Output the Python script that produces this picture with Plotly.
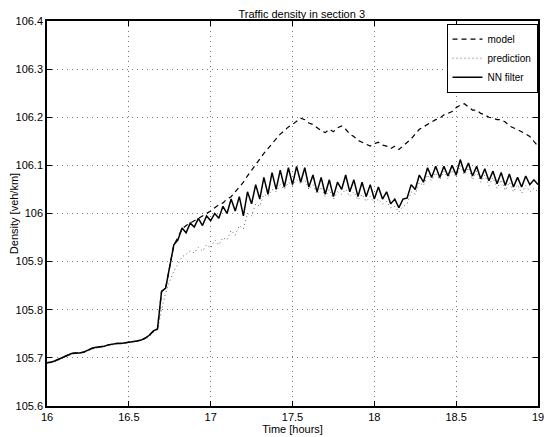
import plotly.graph_objects as go

time_start = 16.0
time_step = 0.025

nn_filter = [
    105.690, 105.691, 105.694, 105.698, 105.702, 105.706, 105.709, 105.710, 105.710, 105.712,
    105.716, 105.720, 105.722, 105.723, 105.724, 105.727, 105.729, 105.730, 105.730, 105.731,
    105.733, 105.734, 105.735, 105.737, 105.741, 105.747, 105.756, 105.760, 105.838, 105.845,
    105.890, 105.935, 105.945, 105.970, 105.960, 105.980, 105.972, 105.990, 105.975, 105.995,
    105.985, 106.000, 105.990, 106.015, 106.000, 106.030, 106.005, 106.035, 105.995, 106.045,
    106.020, 106.060, 106.030, 106.075, 106.040, 106.085, 106.050, 106.090, 106.055, 106.095,
    106.060, 106.098, 106.065, 106.095, 106.055, 106.080, 106.045, 106.075, 106.040, 106.070,
    106.035, 106.065, 106.050, 106.080, 106.045, 106.070, 106.035, 106.065, 106.035, 106.060,
    106.030, 106.055, 106.030, 106.045, 106.020, 106.030, 106.012, 106.030, 106.032, 106.060,
    106.050, 106.080, 106.065, 106.095, 106.075, 106.098, 106.075, 106.098, 106.078, 106.100,
    106.080, 106.112, 106.085, 106.105, 106.078, 106.098, 106.072, 106.093, 106.068, 106.088,
    106.062, 106.085, 106.058, 106.082, 106.055, 106.075, 106.055, 106.078, 106.060, 106.070,
    106.060,
]

model = [
    105.690, 105.691, 105.694, 105.698, 105.702, 105.706, 105.709, 105.710, 105.710, 105.712,
    105.716, 105.720, 105.722, 105.723, 105.724, 105.727, 105.729, 105.730, 105.730, 105.731,
    105.733, 105.734, 105.735, 105.737, 105.741, 105.747, 105.756, 105.760, 105.838, 105.845,
    105.890, 105.935, 105.950, 105.968, 105.975, 105.980, 105.985, 105.990, 105.995, 106.000,
    106.005, 106.012, 106.018, 106.022, 106.030, 106.035, 106.045, 106.055, 106.065, 106.078,
    106.090, 106.100, 106.112, 106.125, 106.135, 106.145, 106.155, 106.165, 106.172, 106.180,
    106.185, 106.192, 106.198, 106.195, 106.188, 106.185, 106.178, 106.172, 106.168, 106.175,
    106.170, 106.178, 106.182, 106.175, 106.165, 106.160, 106.152, 106.148, 106.145, 106.140,
    106.145, 106.148, 106.142, 106.140, 106.135, 106.140, 106.133, 106.140, 106.148, 106.155,
    106.165, 106.175, 106.180, 106.185, 106.190, 106.195, 106.198, 106.205, 106.208, 106.212,
    106.220, 106.225, 106.228, 106.222, 106.215, 106.215, 106.208, 106.205, 106.200, 106.198,
    106.195, 106.195, 106.190, 106.182, 106.178, 106.175, 106.170, 106.165, 106.160, 106.150,
    106.140,
]

prediction = [
    105.690, 105.690, 105.692, 105.696, 105.700, 105.704, 105.707, 105.709, 105.711, 105.712,
    105.714, 105.718, 105.720, 105.722, 105.724, 105.726, 105.728, 105.730, 105.731, 105.731,
    105.732, 105.733, 105.735, 105.736, 105.739, 105.744, 105.752, 105.758, 105.800, 105.835,
    105.860, 105.880, 105.895, 105.910, 105.915, 105.922, 105.918, 105.930, 105.922, 105.935,
    105.928, 105.945, 105.935, 105.950, 105.945, 105.965, 105.955, 105.975, 105.968, 106.000,
    105.995, 106.020, 106.015, 106.040, 106.035, 106.050, 106.045, 106.060, 106.050, 106.065,
    106.058, 106.070, 106.062, 106.070, 106.050, 106.060, 106.040, 106.055, 106.035, 106.050,
    106.030, 106.045, 106.040, 106.050, 106.035, 106.045, 106.028, 106.040, 106.025, 106.035,
    106.022, 106.030, 106.020, 106.025, 106.012, 106.015, 106.003, 106.015, 106.020, 106.045,
    106.040, 106.065, 106.058, 106.080, 106.068, 106.085, 106.070, 106.088, 106.072, 106.090,
    106.075, 106.100, 106.080, 106.095, 106.070, 106.088, 106.065, 106.080, 106.058, 106.075,
    106.052, 106.070, 106.048, 106.065, 106.045, 106.060, 106.042, 106.058, 106.045, 106.052,
    106.045,
]

time_hours = [round(time_start + time_step * i, 3) for i in range(len(nn_filter))]

x_ticks = [16, 16.5, 17, 17.5, 18, 18.5, 19]
x_tick_labels = ["16", "16.5", "17", "17.5", "18", "18.5", "19"]
y_ticks = [105.6, 105.7, 105.8, 105.9, 106.0, 106.1, 106.2, 106.3, 106.4]
y_tick_labels = ["105.6", "105.7", "105.8", "105.9", "106", "106.1", "106.2", "106.3", "106.4"]

fig = go.Figure()
fig.add_trace(go.Scatter(x=time_hours, y=model, mode="lines", name="model",
                         line=dict(color="black", width=1.2, dash="5px,4px")))
fig.add_trace(go.Scatter(x=time_hours, y=prediction, mode="lines", name="prediction",
                         line=dict(color="#666666", width=1, dash="1px,3px")))
fig.add_trace(go.Scatter(x=time_hours, y=nn_filter, mode="lines", name="NN filter",
                         line=dict(color="black", width=1.5)))

axis_common = dict(
    showline=True, linecolor="black", linewidth=1.5, mirror="ticks",
    ticks="inside", ticklen=5, tickcolor="black",
    showgrid=True, gridcolor="#777777", griddash="1px,4px", gridwidth=1,
    zeroline=False, automargin=False,
    tickfont=dict(family="Liberation Sans, Arial", size=11, color="black"),
)

fig.update_layout(
    width=547, height=429,
    paper_bgcolor="white", plot_bgcolor="white",
    margin=dict(l=39, r=17, t=13, b=31),
    font=dict(family="Liberation Sans, Arial", size=11, color="black"),
    title=dict(text="Traffic density in section 3", x=0.537, xanchor="center",
               y=0.985, yanchor="middle", font=dict(size=11), automargin=False),
    xaxis=dict(range=[16, 19], tickvals=x_ticks, ticktext=x_tick_labels,
               title=dict(text="Time [hours]", standoff=0, font=dict(size=11)), **axis_common),
    yaxis=dict(range=[105.6, 106.4], tickvals=y_ticks, ticktext=y_tick_labels,
               title=dict(text="Density [veh/km]", standoff=2, font=dict(size=11)), **axis_common),
    legend=dict(x=0.999, xanchor="right", y=0.993, yanchor="top",
                bgcolor="white", bordercolor="black", borderwidth=1,
                font=dict(size=10), tracegroupgap=0, itemwidth=30),
    showlegend=True,
)

fig.write_html("out.html")
